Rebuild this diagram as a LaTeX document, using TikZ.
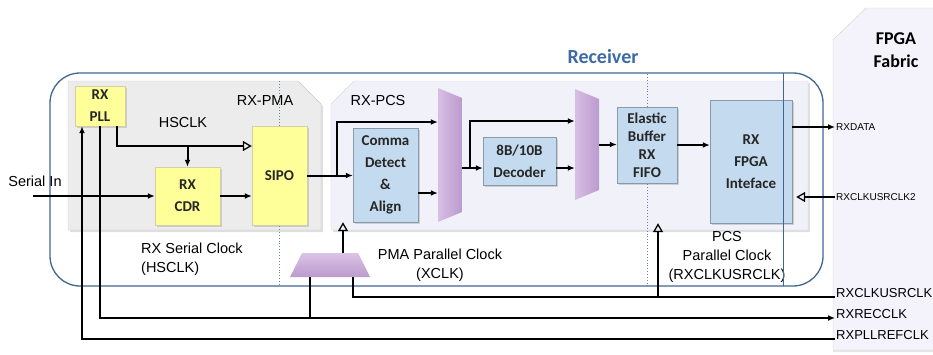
\documentclass[tikz,border=0pt]{standalone}
\usepackage{fontspec}
\setmainfont{Liberation Sans}
\newfontfamily\boxfont{Carlito}
\usepackage{xcolor}
\usepackage{tikz}
\usetikzlibrary{arrows.meta, positioning, calc, shadows}

\definecolor{rxblue}{HTML}{41668F}
\definecolor{rxtitle}{HTML}{3D6AA6}
\definecolor{pmagrey}{HTML}{ECECEC}
\definecolor{pcslilac}{HTML}{F1F1FA}
\definecolor{fabriclilac}{HTML}{F4F3FB}
\definecolor{blkyellow}{HTML}{FFFF99}
\definecolor{blkblue}{HTML}{C4DAEF}
\definecolor{muxpurple}{HTML}{C5A3D8}

\begin{document}
\begin{tikzpicture}[
    x=1pt, y=-1pt,
    yblock/.style={rectangle, draw=yellow!50!black!40, fill=blkyellow, inner sep=0pt,
                   align=center, text=black!85, font=\boxfont\bfseries\fontsize{15}{22}\selectfont,
                   drop shadow={opacity=0.3, shadow xshift=2pt, shadow yshift=-2pt}},
    bblock/.style={rectangle, draw=blkblue!70!black, fill=blkblue, inner sep=0pt,
                   align=center, text=black!85, font=\boxfont\bfseries\fontsize{15}{22}\selectfont,
                   drop shadow={opacity=0.3, shadow xshift=2pt, shadow yshift=-2pt}},
    mux/.style={minimum width=24pt, inner sep=0pt,
                path picture={\shade[left color=muxpurple!70!white, right color=muxpurple!95!black]
                  (path picture bounding box.north west)
                  -- ([yshift=-10pt]path picture bounding box.north east)
                  -- ([yshift=10pt]path picture bounding box.south east)
                  -- (path picture bounding box.south west) -- cycle;}},
    xdiv/.style={minimum width=80pt, minimum height=24pt, inner sep=0pt,
                path picture={\shade[top color=muxpurple!65!white, bottom color=muxpurple!95!black]
                  ([xshift=12pt]path picture bounding box.north west)
                  -- ([xshift=-12pt]path picture bounding box.north east)
                  -- (path picture bounding box.south east)
                  -- (path picture bounding box.south west) -- cycle;}},
    lbl/.style={inner sep=1pt, font=\fontsize{14.5}{19}\selectfont},
    sig/.style={inner sep=1pt, font=\fontsize{10}{12}\selectfont},
    sigl/.style={inner sep=1pt, font=\fontsize{13}{15}\selectfont},
    line/.style={line width=2pt},
    arr/.style={line width=2pt, -{Latex[length=7pt, width=6pt]}},
    clkarr/.style={line width=2pt, -{Triangle[open, length=9pt, width=10pt, line width=1.3pt]}},
  ]
  \useasboundingbox (0,0) rectangle (933,354);

  % FPGA fabric side
  \path[fill=fabriclilac, draw=black!18, drop shadow={opacity=0.2, shadow xshift=0pt, shadow yshift=-2pt}]
    (833,40) -- (866,8) -- (945,8) -- (945,350) -- (833,350) -- cycle;
  \node[font=\boxfont\bfseries\fontsize{18}{23}\selectfont, align=center] (fab) at (896,50) {FPGA\\Fabric};

  % receiver outline
  \draw[rxblue, line width=1.3pt, rounded corners=30pt] (50,73) rectangle (823,286);
  \node[font=\boxfont\bfseries\fontsize{20}{24}\selectfont, text=rxtitle] (rcv) at (603,57) {Receiver};

  % PMA and PCS panels
  \path[fill=pmagrey, draw=white!80!black, drop shadow={opacity=0.25, shadow xshift=2pt, shadow yshift=-2pt}]
    (68,81) -- (298,81) -- (321,104) -- (321,230) -- (68,230) -- cycle;
  \path[fill=pcslilac, draw=white!85!black, drop shadow={opacity=0.25, shadow xshift=2pt, shadow yshift=-2pt}]
    (331,104) -- (354,81) -- (808,81) -- (808,230) -- (331,230) -- cycle;
  \draw[rxblue!80, dotted, line width=0.9pt] (279,81) -- (279,286);
  \draw[rxblue!80, dotted, line width=0.9pt] (647,74) -- (647,286);

  \node[lbl] (pmalbl) at (265,101) {RX-PMA};
  \node[lbl] (pcslbl) at (378,101) {RX-PCS};
  \node[lbl] (hsclk) at (183,123) {HSCLK};
  \node[lbl] (serin) at (35,181) {Serial In};
  \node[lbl, align=left, anchor=north west] (sclk) at (140,242) {RX Serial Clock\\(HSCLK)};
  \node[lbl, align=center] (xclk) at (440,265) {PMA Parallel Clock\\(XCLK)};
  \node[lbl, align=center] (pclk) at (727,257) {PCS\\Parallel Clock\\(RXCLKUSRCLK)};

  % blocks
  \node[yblock, minimum width=50pt, minimum height=40pt] (pll) at (100,106) {RX\\PLL};
  \node[yblock, minimum width=65pt, minimum height=58pt] (cdr) at (187.5,196) {RX\\CDR};
  \node[yblock, minimum width=55pt, minimum height=99pt] (sipo) at (279.5,175.5) {SIPO};
  \node[bblock, minimum width=65pt, minimum height=94pt] (comma) at (385.5,175) {Comma\\Detect\\\&\\Align};
  \node[mux, minimum height=134pt] (mux1) at (450,155) {};
  \node[bblock, minimum width=73pt, minimum height=48pt] (dec) at (519.5,161) {8B/10B\\Decoder};
  \node[mux, minimum height=111pt] (mux2) at (587,144.5) {};
  \node[bblock, minimum width=60pt, minimum height=76pt,
        font=\boxfont\bfseries\fontsize{15}{18}\selectfont] (ebuf) at (647,145) {Elastic\\Buffer\\RX\\FIFO};
  \node[bblock, minimum width=82pt, minimum height=123pt] (rxif) at (751,161.5) {RX\\FPGA\\Inteface};
  \node[xdiv] (xd) at (330,265) {};
  \draw[rxblue, line width=1pt] (783,73) -- (783,286);

  % fabric ports
  \node[sig, anchor=west] (rxdata) at (835,127) {RXDATA};
  \node[sig, anchor=west] (usr2) at (835,197) {RXCLKUSRCLK2};
  \node[sigl, anchor=base west] (usrclk) at (835,297) {RXCLKUSRCLK};
  \node[sigl, anchor=base west] (recclk) at (835,318) {RXRECCLK};
  \node[sigl, anchor=base west] (refclk) at (835,339) {RXPLLREFCLK};

  % PMA data and clock
  \coordinate (sin) at (33,196);
  \draw[arr] (sin) -- (cdr.west);
  \coordinate (hsj) at (187.5,146);
  \draw[clkarr] ([xshift=17pt]pll.south) |- ([yshift=29.5pt]sipo.west);
  \draw[arr] (cdr.north |- hsj) -- (cdr.north);
  \draw[arr] (cdr.east) -- (cdr.east -| sipo.west);

  % PCS data path
  \draw[arr] (sipo.east) -- (sipo.east -| comma.west);
  \path (sipo.east) ++(30,0) coordinate (sp1);
  \path (mux1.west) ++(0,-33) coordinate (m1a);
  \draw[arr] (sp1) |- (m1a);
  \path (comma.east) ++(0,18) coordinate (ca);
  \draw[arr] (ca) -- (ca -| mux1.west);
  \path (mux1.east) ++(0,13) coordinate (m1o);
  \path (dec.west) ++(0,7) coordinate (dw);
  \draw[arr] (m1o) -- (dw);
  \path (m1o) ++(8,0) coordinate (sp2);
  \path (mux2.west) ++(0,-23.5) coordinate (m2a);
  \draw[arr] (sp2) |- (m2a);
  \path (dec.east) ++(0,7) coordinate (de);
  \draw[arr] (de) -- (de -| mux2.west);
  \draw[arr] (mux2.east) -- (mux2.east -| ebuf.west);
  \draw[arr] (ebuf.east) -- (ebuf.east -| rxif.west);
  \draw[arr] (rxif.east |- rxdata.west) -- (rxdata.west);
  \draw[clkarr, shorten >=4pt] (usr2.west) -- (usr2.west -| rxif.east);

  % clocks to and from the fabric
  \draw[arr] (refclk.base west) -| ([xshift=-18pt]pll.south);
  \draw[arr] (pll.south) |- (recclk.base west);
  \path (xd.south) ++(-20,0) coordinate (xd1);
  \draw[line] (xd1) -- (xd1 |- recclk.base west);
  \path (xd.north) ++(13,0) coordinate (xd2);
  \draw[clkarr] (xd2) -- (xd2 |- comma.south);
  \path (xd.south) ++(23,0) coordinate (xd3);
  \draw[line] (xd3) |- (usrclk.base west);
  \path (usrclk.base west) ++(-177,0) coordinate (pcsj);
  \draw[clkarr] (pcsj) -- (pcsj |- rxif.south);
\end{tikzpicture}
\end{document}
